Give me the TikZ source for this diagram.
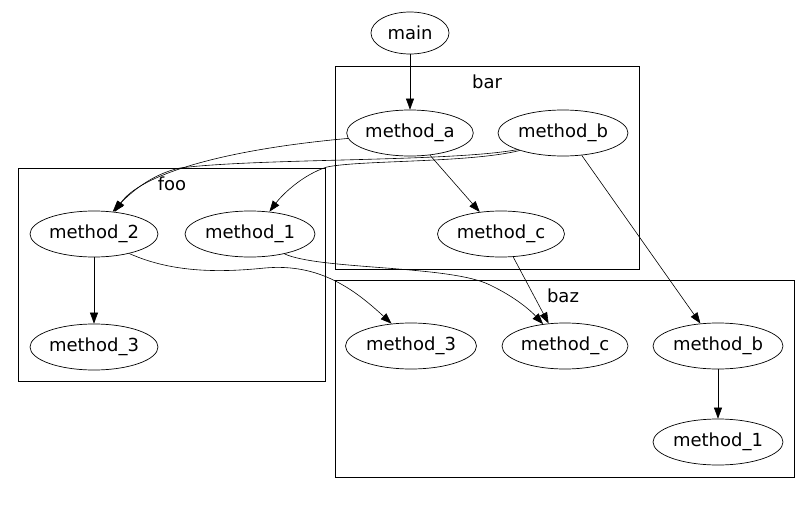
\documentclass[tikz,border=0pt]{standalone}
\usepackage{fontspec}
\setmainfont{DejaVu Sans}
\usetikzlibrary{shapes.geometric,arrows.meta}
\tikzset{
  fn/.style={draw, ellipse, line width=0.7pt, inner sep=0pt, minimum width=128pt, minimum height=46pt, font=\fontsize{18}{21}\selectfont},
  cluster/.style={draw, line width=0.8pt, inner sep=0pt},
  clabel/.style={font=\fontsize{18}{21}\selectfont, inner sep=0pt},
  edge/.style={line width=0.6pt, -{Triangle[length=11pt,width=8pt]}}
}
\begin{document}
\begin{tikzpicture}[x=1pt,y=-1pt]
\useasboundingbox (0,0) rectangle (812,506);
% clusters
\node[cluster, minimum width=304pt, minimum height=203pt] (bar) at (487,167.5) {};
\node[cluster, minimum width=307pt, minimum height=213pt] (foo) at (171.5,274.5) {};
\node[cluster, minimum width=459pt, minimum height=197pt] (baz) at (564.5,378.5) {};
\node[clabel] (barl) at (487,82) {bar};
\node[clabel] (fool) at (172,184) {foo};
\node[clabel] (bazl) at (563,296) {baz};
% nodes
\node[fn, minimum width=78pt, minimum height=42pt] (main) at (410,33) {main};
\node[fn, minimum width=126pt] (ma) at (410,133) {method\_a};
\node[fn, minimum width=130pt] (mb) at (563,133) {method\_b};
\node[fn, minimum width=127pt] (bc) at (501,234) {method\_c};
\node[fn] (f2) at (94,234) {method\_2};
\node[fn, minimum width=130pt] (f1) at (250,234) {method\_1};
\node[fn] (f3) at (94,347) {method\_3};
\node[fn, minimum width=131pt] (z3) at (411,346) {method\_3};
\node[fn, minimum width=126pt] (zc) at (565,346) {method\_c};
\node[fn, minimum width=130pt] (zb) at (718,346) {method\_b};
\node[fn, minimum width=130pt] (z1) at (718,442) {method\_1};
% edges
\draw[edge] (main) -- (ma);
\draw[edge] (ma.-48) -- (bc.134);
\draw[edge] (ma.185) .. controls (220,150) and (140,175) .. (f2.47);
\draw[edge] (mb.200) .. controls (450,162) and (260,158) .. (180,168) .. controls (152,174) and (130,193) .. (f2.50);
\draw[edge] (mb.202) .. controls (470,163) and (360,160) .. (327,167) .. controls (302,175) and (282,195) .. (f1.49);
\draw[edge] (mb.-50) -- (zb.128);
\draw[edge] (bc.-62) -- (zc.126);
\draw[edge] (f1.-30) .. controls (320,270) and (450,265) .. (490,285) .. controls (515,297) and (530,310) .. (zc.135);
\draw[edge] (f2.-29) .. controls (175,274) and (225,272) .. (265,268) .. controls (320,263) and (355,290) .. (z3.131);
\draw[edge] (f2) -- (f3);
\draw[edge] (zb) -- (z1);
\end{tikzpicture}
\end{document}
